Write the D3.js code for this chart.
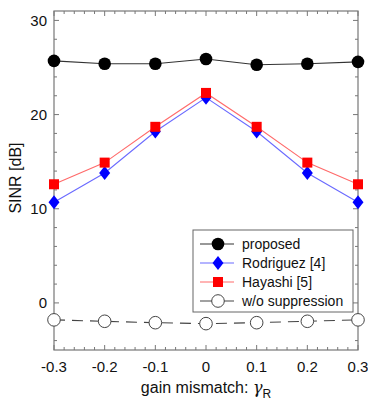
<!DOCTYPE html>
<html>
<head>
<meta charset="utf-8">
<script src="https://cdn.jsdelivr.net/npm/d3@7"></script>
<style>
  body { margin: 0; background: #fff; }
  text { font-family: "Liberation Sans", Arial, sans-serif; }
</style>
</head>
<body>
<svg id="chart" width="368" height="400"></svg>
<script>
// data
var gammas = [-0.3, -0.2, -0.1, 0, 0.1, 0.2, 0.3];
var proposed = [25.7, 25.4, 25.4, 25.9, 25.3, 25.4, 25.6];
var rodriguez = [10.7, 13.8, 18.2, 21.8, 18.2, 13.8, 10.7];
var hayashi = [12.6, 14.9, 18.7, 22.3, 18.7, 14.9, 12.6];
var withoutSupp = [-1.8, -1.95, -2.1, -2.2, -2.1, -1.95, -1.8];
var xTicks = [-0.3, -0.2, -0.1, 0, 0.1, 0.2, 0.3];
var xTickLabels = ["-0.3", "-0.2", "-0.1", "0", "0.1", "0.2", "0.3"];
var yTicks = [0, 10, 20, 30];
var names = ["proposed", "Rodriguez [4]", "Hayashi [5]", "w/o suppression"];

var svg = d3.select("#chart");
var margin = {top: 11, right: 10, bottom: 50, left: 54},
    width = 368, height = 400;

var x = d3.scaleLinear().domain([-0.3, 0.3]).range([margin.left, width - margin.right]);
var y = d3.scaleLinear().domain([-5, 31]).range([height - margin.bottom, margin.top]);

var axisColor = "#777";

// frame
svg.append("rect")
    .attr("x", x(-0.3)).attr("y", y(31))
    .attr("width", x(0.3) - x(-0.3)).attr("height", y(-5) - y(31))
    .attr("fill", "none").attr("stroke", axisColor).attr("stroke-width", 1.2);

// minor + major ticks, inward on all four sides
var xMinor = d3.range(-0.3, 0.3001, 0.02);
var yMinor = d3.range(-4, 31, 2);
var tickG = svg.append("g").attr("stroke", axisColor).attr("stroke-width", 1);
xMinor.forEach(function(v) {
    var isMajor = xTicks.some(function(t) { return Math.abs(t - v) < 1e-6; });
    var len = isMajor ? 5 : 3;
    tickG.append("line").attr("x1", x(v)).attr("x2", x(v))
        .attr("y1", y(-5)).attr("y2", y(-5) - len);
    tickG.append("line").attr("x1", x(v)).attr("x2", x(v))
        .attr("y1", y(31)).attr("y2", y(31) + len);
});
yMinor.forEach(function(v) {
    var len = (v % 10 === 0) ? 5 : 3;
    tickG.append("line").attr("y1", y(v)).attr("y2", y(v))
        .attr("x1", x(-0.3)).attr("x2", x(-0.3) + len);
    tickG.append("line").attr("y1", y(v)).attr("y2", y(v))
        .attr("x1", x(0.3)).attr("x2", x(0.3) - len);
});

// tick labels
svg.append("g").selectAll("text").data(xTicks).enter().append("text")
    .attr("x", function(d) { return x(d); })
    .attr("y", 372)
    .attr("text-anchor", "middle")
    .attr("font-size", 15)
    .attr("fill", "#111")
    .text(function(d, i) { return xTickLabels[i]; });

svg.append("g").selectAll("text").data(yTicks).enter().append("text")
    .attr("x", 47)
    .attr("y", function(d) { return y(d); })
    .attr("dy", "0.36em")
    .attr("text-anchor", "end")
    .attr("font-size", 15)
    .attr("fill", "#111")
    .text(function(d) { return d; });

// axis titles
svg.append("text")
    .attr("transform", "translate(21," + 178 + ") rotate(-90)")
    .attr("text-anchor", "middle")
    .attr("font-size", 16)
    .attr("fill", "#111")
    .text("SINR [dB]");

var xl = svg.append("text")
    .attr("x", 206).attr("y", 393)
    .attr("text-anchor", "middle")
    .attr("font-size", 16)
    .attr("fill", "#111");
xl.append("tspan").text("gain mismatch: ");
xl.append("tspan").attr("font-family", "'DejaVu Serif', serif").attr("font-style", "italic").text("\u03b3");
xl.append("tspan").attr("font-size", 12).attr("dy", 5).text("R");

// series
var line = d3.line()
    .x(function(d, i) { return x(gammas[i]); })
    .y(function(d) { return y(d); });

var series = [
    {name: names[0], values: proposed, line: "#333", shape: "circle", fill: "#000", stroke: "#000", dash: null},
    {name: names[1], values: rodriguez, line: "#6a6aff", shape: "diamond", fill: "#0000ff", stroke: "#0000ff", dash: null},
    {name: names[2], values: hayashi, line: "#ff6a6a", shape: "square", fill: "#ff0000", stroke: "#ff0000", dash: null},
    {name: names[3], values: withoutSupp, line: "#444", shape: "open", fill: "#fff", stroke: "#444", dash: "11,7"}
];

function drawMarker(g, s, cx, cy) {
    if (s.shape === "circle") {
        g.append("circle").attr("cx", cx).attr("cy", cy).attr("r", 6.3).attr("fill", s.fill);
    } else if (s.shape === "open") {
        g.append("circle").attr("cx", cx).attr("cy", cy).attr("r", 6.3)
            .attr("fill", "#fff").attr("stroke", s.stroke).attr("stroke-width", 1);
    } else if (s.shape === "diamond") {
        g.append("path")
            .attr("d", "M" + cx + "," + (cy - 7) + "L" + (cx + 5.5) + "," + cy + "L" + cx + "," + (cy + 7) + "L" + (cx - 5.5) + "," + cy + "Z")
            .attr("fill", s.fill);
    } else {
        g.append("rect").attr("x", cx - 5).attr("y", cy - 5).attr("width", 10).attr("height", 10).attr("fill", s.fill);
    }
}

series.forEach(function(s) {
    svg.append("path")
        .datum(s.values)
        .attr("d", line)
        .attr("fill", "none")
        .attr("stroke", s.line)
        .attr("stroke-width", 1.1)
        .attr("stroke-dasharray", s.dash);
    var g = svg.append("g");
    s.values.forEach(function(v, i) { drawMarker(g, s, x(gammas[i]), y(v)); });
});

// legend
var leg = svg.append("g");
leg.append("rect")
    .attr("x", 193).attr("y", 230).attr("width", 160).attr("height", 82)
    .attr("fill", "#fff").attr("stroke", "#666").attr("stroke-width", 1);
series.forEach(function(s, i) {
    var cy = 244 + i * 19;
    leg.append("line").attr("x1", 200).attr("x2", 234).attr("y1", cy).attr("y2", cy)
        .attr("stroke", s.line).attr("stroke-width", 1.1);
    drawMarker(leg, s, 218, cy);
    leg.append("text").attr("x", 242).attr("y", cy).attr("dy", "0.35em")
        .attr("font-size", 14).attr("fill", "#111").text(s.name);
});
</script>
</body>
</html>
